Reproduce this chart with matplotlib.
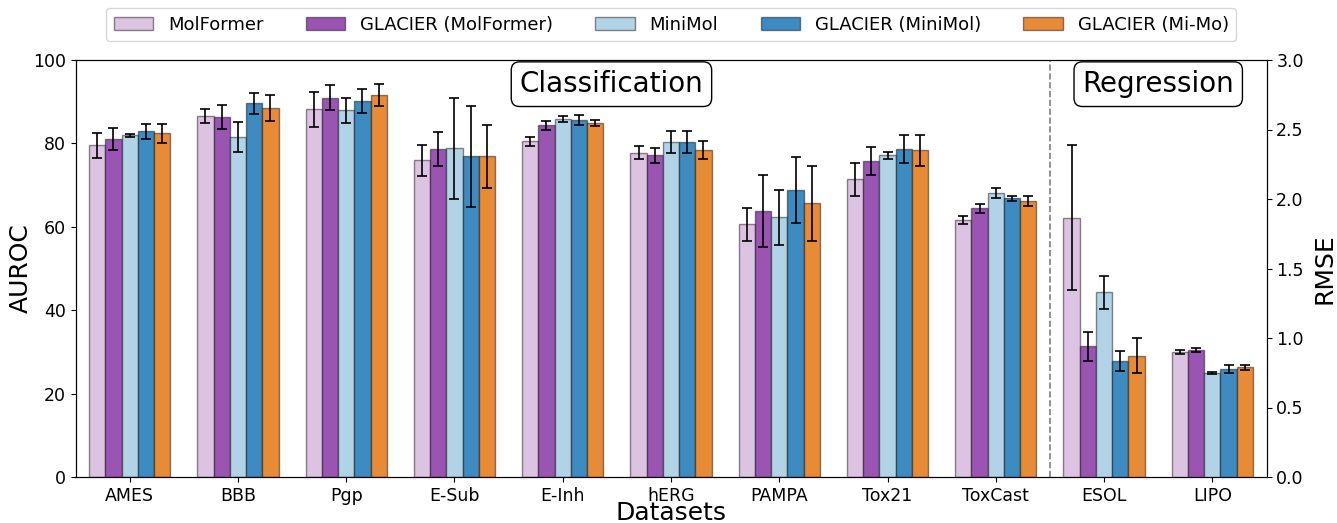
import numpy as np
import matplotlib
matplotlib.use("Agg")
import matplotlib.pyplot as plt

cls_datasets = ["AMES", "BBB", "Pgp", "E-Sub", "E-Inh", "hERG", "PAMPA", "Tox21", "ToxCast"]
reg_datasets = ["ESOL", "LIPO"]
models = ["MolFormer", "GLACIER (MolFormer)", "MiniMol", "GLACIER (MiniMol)", "GLACIER (Mi-Mo)"]
colors = ["#dcc3e2", "#9a55b3", "#b2d3e6", "#3d8bc1", "#e88b37"]

# AUROC means (per model, per classification dataset)
molformer_auc = [79.5, 86.6, 88.2, 75.9, 80.5, 77.8, 60.6, 71.4, 61.6]
glacier_mf_auc = [81.0, 86.3, 91.0, 78.6, 84.3, 77.2, 63.8, 75.8, 64.4]
minimol_auc = [81.9, 81.5, 87.9, 78.8, 85.8, 80.3, 62.3, 77.1, 68.0]
glacier_mm_auc = [82.9, 89.6, 90.1, 76.9, 85.6, 80.4, 68.8, 78.7, 66.8]
glacier_mimo_auc = [82.4, 88.4, 91.6, 76.9, 84.9, 78.4, 65.6, 78.4, 66.3]

molformer_auc_err = [2.9, 1.7, 4.2, 3.7, 1.1, 1.6, 4.0, 4.0, 0.9]
glacier_mf_auc_err = [2.6, 2.8, 3.1, 4.1, 1.0, 1.8, 8.7, 3.4, 1.1]
minimol_auc_err = [0.4, 3.6, 3.0, 12.1, 0.7, 2.6, 6.6, 0.9, 1.2]
glacier_mm_auc_err = [1.8, 2.6, 2.9, 12.1, 1.1, 2.6, 7.9, 3.4, 0.7]
glacier_mimo_auc_err = [2.2, 3.1, 2.7, 7.5, 0.8, 2.1, 8.9, 3.7, 1.2]

# RMSE means (per model, per regression dataset)
molformer_rmse = [1.865, 0.899]
glacier_mf_rmse = [0.940, 0.911]
minimol_rmse = [1.329, 0.748]
glacier_mm_rmse = [0.832, 0.777]
glacier_mimo_rmse = [0.873, 0.791]

molformer_rmse_err = [0.52, 0.017]
glacier_mf_rmse_err = [0.105, 0.014]
minimol_rmse_err = [0.117, 0.010]
glacier_mm_rmse_err = [0.072, 0.027]
glacier_mimo_rmse_err = [0.127, 0.018]

auc = [molformer_auc, glacier_mf_auc, minimol_auc, glacier_mm_auc, glacier_mimo_auc]
auc_err = [molformer_auc_err, glacier_mf_auc_err, minimol_auc_err, glacier_mm_auc_err, glacier_mimo_auc_err]
rmse = [molformer_rmse, glacier_mf_rmse, minimol_rmse, glacier_mm_rmse, glacier_mimo_rmse]
rmse_err = [molformer_rmse_err, glacier_mf_rmse_err, minimol_rmse_err, glacier_mm_rmse_err, glacier_mimo_rmse_err]

fig = plt.figure(figsize=(13.37, 5.23), dpi=100)
ax = fig.add_axes([75.5 / 1337, 46 / 523, (1266.5 - 75.5) / 1337, (477 - 60) / 523])
ax2 = ax.twinx()

n_cls = len(cls_datasets)
x_cls = np.arange(n_cls)
x_reg = np.arange(len(reg_datasets)) + n_cls
width = 0.15
offsets = (np.arange(len(models)) - 2) * width

err_kw = dict(ecolor="black", elinewidth=1.2, capsize=3.5, capthick=1.2)
edge = (0, 0, 0, 0.45)
handles = []
for i, m in enumerate(models):
    b = ax.bar(x_cls + offsets[i], auc[i], width, yerr=auc_err[i], color=colors[i],
               edgecolor=edge, linewidth=1.0, label=m, error_kw=err_kw, zorder=2)
    ax2.bar(x_reg + offsets[i], rmse[i], width, yerr=rmse_err[i], color=colors[i],
            edgecolor=edge, linewidth=1.0, error_kw=err_kw, zorder=2)
    handles.append(b)

ax.set_xlim(-0.5, n_cls + len(reg_datasets) - 0.5)
ax.set_ylim(0, 100)
ax2.set_ylim(0, 3.0)
ax2.set_yticks(np.arange(0, 3.01, 0.5))
ax.set_xticks(np.concatenate([x_cls, x_reg]))
ax.set_xticklabels(cls_datasets + reg_datasets, fontsize=12.5)
ax.tick_params(axis="y", labelsize=12.5)
ax2.tick_params(axis="y", labelsize=12.5)
ax.set_ylabel("AUROC", fontsize=18)
ax2.set_ylabel("RMSE", fontsize=18)
ax.set_xlabel("Datasets", fontsize=18)
ax.yaxis.set_label_coords(-0.0355, 0.5)
ax2.yaxis.set_label_coords(1.039, 0.5)
ax.xaxis.set_label_coords(0.5, -0.058)

ax.axvline(n_cls - 0.5, color="gray", linestyle="--", linewidth=1.2, zorder=1)

box = dict(boxstyle="round,pad=0.3", facecolor="white", edgecolor="black", linewidth=1)
ax.text(4.45, 94.2, "Classification", fontsize=20, ha="center", va="center", bbox=box, zorder=5)
ax.text(9.5, 94.2, "Regression", fontsize=20, ha="center", va="center", bbox=box, zorder=5)

fig.legend(handles, models, loc="center", bbox_to_anchor=(0.502, 0.953), ncol=5,
           fontsize=13, frameon=True, handlelength=2.2, columnspacing=2.35)

fig.savefig("out.png", dpi=100)
